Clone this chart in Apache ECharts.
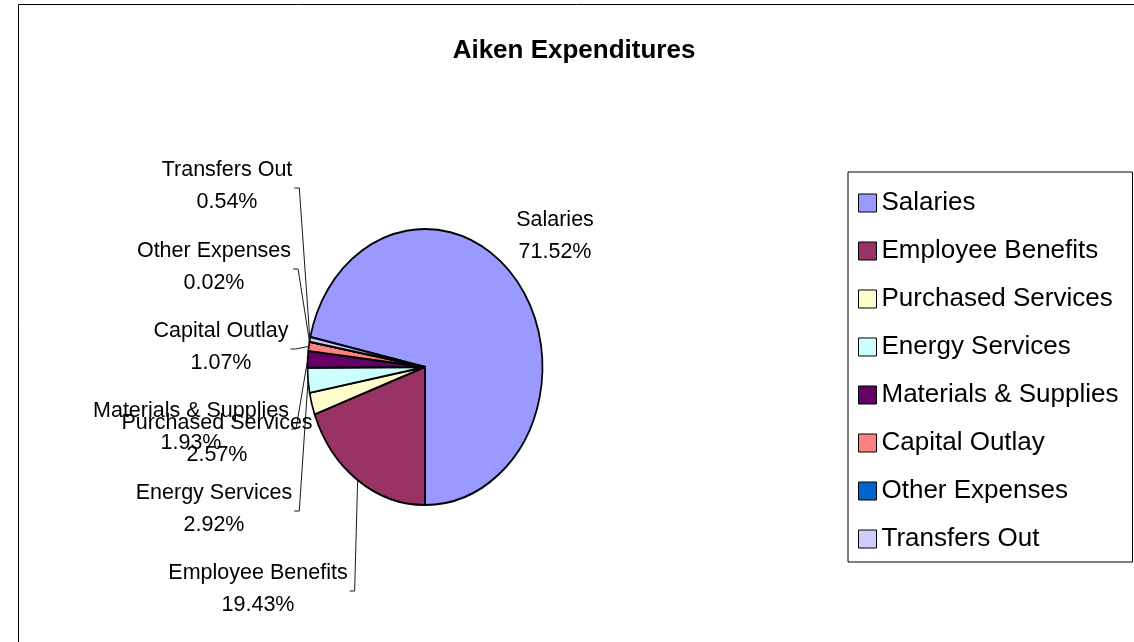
<!DOCTYPE html>
<html>
<head>
<meta charset="utf-8">
<title>Aiken Expenditures</title>
<script src="https://cdn.jsdelivr.net/npm/echarts@6/dist/echarts.min.js"></script>
<style>
  html, body { margin: 0; padding: 0; background: #ffffff; }
  #chart { width: 1134px; height: 642px; }
</style>
</head>
<body>
<div id="chart"></div>
<script>
// ---- data ----
const chartTitle = 'Aiken Expenditures';
const categories = [
  'Salaries', 'Employee Benefits', 'Purchased Services', 'Energy Services',
  'Materials & Supplies', 'Capital Outlay', 'Other Expenses', 'Transfers Out'
];
const shares = [71.52, 19.43, 2.57, 2.92, 1.93, 1.07, 0.02, 0.54];

// ---- styling / layout ----
const sliceColors = ['#9999FF', '#993366', '#FFFFCC', '#CCFFFF', '#660066', '#FF8080', '#0066CC', '#CCCCFF'];
const FONT = '"Liberation Sans", Arial, Helvetica, sans-serif';
const LABEL_SIZE = 21.5;
const LABEL_LINE = 32;
// elliptical pie: centre and radii in pixels
const PIE = { cx: 425, cy: 367, rx: 117.5, ry: 138 };
// label centres as offsets from the pie centre; leader = draw a connector line
const labelSpots = {
  'Salaries':             { dx: 130,  dy: -131, leader: false },
  'Employee Benefits':    { dx: -167, dy: 222,  leader: true },
  'Purchased Services':   { dx: -208, dy: 72,   leader: false },
  'Energy Services':      { dx: -211, dy: 142,  leader: true },
  'Materials & Supplies': { dx: -234, dy: 60,   leader: true },
  'Capital Outlay':       { dx: -204, dy: -20,  leader: true },
  'Other Expenses':       { dx: -211, dy: -100, leader: true },
  'Transfers Out':        { dx: -198, dy: -181, leader: true }
};

// ---- slice angles (degrees clockwise from 12 o'clock) ----
const total = shares.reduce((a, b) => a + b, 0);
// the first slice ends at 6 o'clock
const firstAngle = 180 - 360 * shares[0] / total;
const sliceStart = [];
const sliceEnd = [];
let acc = 0;
shares.forEach(function (v) {
  sliceStart.push(firstAngle + 360 * acc / total);
  acc += v;
  sliceEnd.push(firstAngle + 360 * acc / total);
});

const toScreenRad = deg => (deg - 90) * Math.PI / 180;
function ellipsePoint(deg) {
  const r = deg * Math.PI / 180;
  return [PIE.cx + PIE.rx * Math.sin(r), PIE.cy - PIE.ry * Math.cos(r)];
}

const measureCtx = document.createElement('canvas').getContext('2d');
measureCtx.font = LABEL_SIZE + 'px ' + FONT;

function makeRenderer(i) {
  return function (params, api) {
    const value = api.value(0);
    const name = categories[i];
    const children = [];
    // slice, drawn on a circle of radius ry and squeezed horizontally
    children.push({
      type: 'sector',
      x: PIE.cx,
      y: PIE.cy,
      scaleX: PIE.rx / PIE.ry,
      z2: 1,
      shape: {
        cx: 0, cy: 0, r0: 0, r: PIE.ry,
        startAngle: toScreenRad(sliceStart[i]),
        endAngle: toScreenRad(sliceEnd[i]),
        clockwise: true
      },
      style: { fill: sliceColors[i], stroke: '#000000', lineWidth: 2, strokeNoScale: true, lineJoin: 'round' }
    });

    const spot = labelSpots[name];
    const lx = PIE.cx + spot.dx;
    const ly = PIE.cy + spot.dy;
    const pct = (value / total * 100).toFixed(2) + '%';

    if (spot.leader) {
      const mid = (sliceStart[i] + sliceEnd[i]) / 2;
      const tip = ellipsePoint(mid);
      const halfW = measureCtx.measureText(name).width / 2;
      const sx = lx + halfW + 2;
      const sy = ly + 2;
      children.push({
        type: 'polyline',
        z2: 50,
        shape: { points: [[sx, sy], [sx + 5, sy], tip] },
        style: { stroke: '#1a1a1a', lineWidth: 1, fill: null }
      });
    }

    children.push({
      type: 'text',
      z2: 100,
      style: {
        text: name + '\n' + pct,
        x: lx,
        y: ly,
        align: 'center',
        verticalAlign: 'middle',
        fontSize: LABEL_SIZE,
        lineHeight: LABEL_LINE,
        fontFamily: FONT,
        fill: '#000000'
      }
    });
    return { type: 'group', children: children };
  };
}

const series = categories.map(function (name, i) {
  return {
    type: 'custom',
    name: name,
    coordinateSystem: 'none',
    animation: false,
    silent: true,
    itemStyle: { color: sliceColors[i] },
    data: [[shares[i]]],
    renderItem: makeRenderer(i)
  };
});

const chart = echarts.init(document.getElementById('chart'), null, { renderer: 'canvas' });
chart.setOption({
  backgroundColor: '#ffffff',
  animation: false,
  color: sliceColors,
  title: {
    text: chartTitle,
    left: 574,
    top: 38,
    padding: 0,
    textAlign: 'center',
    textStyle: { fontFamily: FONT, fontSize: 26, fontWeight: 'bold', color: '#000000' }
  },
  legend: {
    data: categories,
    orient: 'vertical',
    left: 848,
    top: 172,
    padding: [17, 14, 9, 10],
    itemGap: 20,
    itemWidth: 18,
    itemHeight: 18,
    icon: 'rect',
    selectedMode: false,
    borderColor: '#000000',
    borderWidth: 1,
    backgroundColor: '#ffffff',
    itemStyle: { borderColor: '#000000', borderWidth: 1 },
    textStyle: { fontFamily: FONT, fontSize: 26, lineHeight: 28, color: '#000000' }
  },
  graphic: [{
    type: 'rect',
    silent: true,
    shape: { x: 18.5, y: 4.5, width: 1130, height: 660 },
    style: { fill: null, stroke: '#000000', lineWidth: 1 }
  }],
  series: series
});
</script>
</body>
</html>
